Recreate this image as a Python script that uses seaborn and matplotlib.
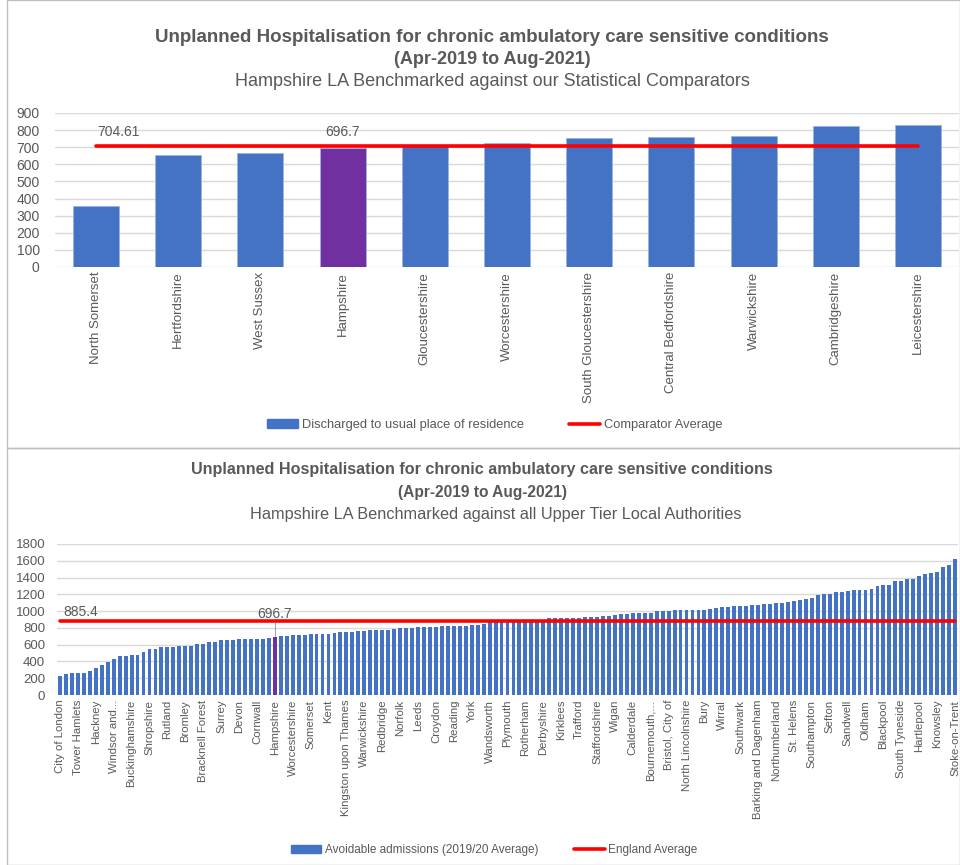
import numpy as np
import pandas as pd
import matplotlib
matplotlib.use("Agg")
import matplotlib.pyplot as plt
from matplotlib.patches import Rectangle, Patch
from matplotlib.lines import Line2D
import seaborn as sns

# ---------------- data ----------------
comp_areas = ["North Somerset", "Hertfordshire", "West Sussex", "Hampshire",
              "Gloucestershire", "Worcestershire", "South Gloucestershire",
              "Central Bedfordshire", "Warwickshire", "Cambridgeshire", "Leicestershire"]
comp_values = [356, 656, 669, 696.7, 708, 725, 751, 758, 764, 826, 830]
comp_average = 704.61

la_values = [230, 246, 258, 258, 258, 290, 318, 358, 389, 425, 465, 465, 477, 477, 509, 544,
             552, 568, 568, 576, 584, 588, 588, 604, 604, 628, 628, 656, 656, 660, 664, 666,
             671, 671, 671, 683, 696.7,
             699, 705, 716, 719, 721, 723, 729, 731, 733, 745, 747, 753, 755, 757, 763, 769,
             771, 777, 779, 787, 795, 801, 803, 809, 811, 815, 815, 819, 819, 823, 823, 828,
             830, 834, 842,
             868, 870, 872, 872, 874, 876, 878, 880, 882, 890,
             915, 920, 921, 922, 922, 923, 928, 930, 931, 936, 938, 950, 962,
             970, 972, 973, 975, 981, 998, 1001, 1003,
             1010, 1012, 1013, 1013, 1014, 1016, 1021, 1033,
             1047, 1049, 1057, 1063, 1065, 1071, 1073, 1081, 1089, 1095, 1097, 1113, 1121, 1137,
             1148, 1156, 1196, 1206, 1208, 1222, 1224, 1240, 1246, 1248, 1256, 1264, 1300, 1309,
             1311, 1361, 1363, 1381, 1383, 1419, 1443, 1459, 1466, 1522, 1546, 1625]
la_tick_labels = ["City of London", "Tower Hamlets", "Hackney", "Windsor and...", "Buckinghamshire",
                  "Shropshire", "Rutland", "Bromley", "Bracknell Forest", "Surrey", "Devon",
                  "Cornwall", "Hampshire", "Worcestershire", "Somerset", "Kent",
                  "Kingston upon Thames", "Warwickshire", "Redbridge", "Norfolk", "Leeds",
                  "Croydon", "Reading", "York", "Wandsworth", "Plymouth", "Rotherham",
                  "Derbyshire", "Kirklees", "Trafford", "Staffordshire", "Wigan", "Calderdale",
                  "Bournemouth,...", "Bristol, City of", "North Lincolnshire", "Bury", "Wirral",
                  "Southwark", "Barking and Dagenham", "Northumberland", "St. Helens",
                  "Southampton", "Sefton", "Sandwell", "Oldham", "Blackpool", "South Tyneside",
                  "Hartlepool", "Knowsley", "Stoke-on-Trent"]
hampshire_index = 36
england_average = 885.4

# ---------------- style ----------------
sns.set_theme(style="white")
plt.rcParams["font.family"] = ["Liberation Sans", "DejaVu Sans"]
BLUE = "#4472C4"
PURPLE = "#7030A0"
RED = "#FF0000"
GREY_TXT = "#595959"
GRID = "#D9D9D9"

W, H = 960, 865
fig = plt.figure(figsize=(W / 100, H / 100), dpi=100)

def ax_rect(x0, y0, x1, y1):
    # pixel coords (top-left origin) -> figure fraction rect
    return [x0 / W, 1 - y1 / H, (x1 - x0) / W, (y1 - y0) / H]

# panel borders
fig.patches.append(Rectangle((7 / W, 1 - 448 / H), (W - 7) / W, 448 / H, transform=fig.transFigure,
                             fill=False, edgecolor="#BFBFBF", linewidth=1))
fig.patches.append(Rectangle((7 / W, 0), (W - 7) / W, 1 - 448 / H, transform=fig.transFigure,
                             fill=False, edgecolor="#BFBFBF", linewidth=1))

def style_axis(ax, ymax, step, ysize, pad):
    ax.set_ylim(0, ymax)
    ax.set_yticks(np.arange(0, ymax + 1, step))
    ax.yaxis.grid(True, color=GRID, linewidth=1)
    ax.set_axisbelow(True)
    for s in ax.spines.values():
        s.set_visible(False)
    ax.tick_params(axis="y", labelsize=ysize, labelcolor=GREY_TXT, length=0, pad=pad)
    ax.tick_params(axis="x", length=0, labelcolor=GREY_TXT)
    ax.set_xlabel("")
    ax.set_ylabel("")

# ---------------- top chart ----------------
ax1 = fig.add_axes(ax_rect(55, 113, 959, 267))
df1 = pd.DataFrame({"area": comp_areas, "value": comp_values})
pal1 = {a: (PURPLE if a == "Hampshire" else BLUE) for a in comp_areas}
sns.barplot(data=df1, x="area", y="value", hue="area", palette=pal1, legend=False,
            width=0.56, saturation=1, edgecolor="#9DB3E0", linewidth=0.6, ax=ax1)
ax1.plot([0, len(comp_areas) - 1], [comp_average, comp_average], color=RED, linewidth=2.6, zorder=5)
ax1.set_xlim(-0.5, len(comp_areas) - 0.5)
style_axis(ax1, 900, 100, 10, 11)
ax1.set_xticks(range(len(comp_areas)))
ax1.set_xticklabels(comp_areas, rotation=90, fontsize=9.5, va="top")
ax1.text(0.02, 787, f"{comp_average:.2f}", fontsize=10, color=GREY_TXT, ha="left", va="center")
ax1.text(3, 787, "696.7", fontsize=10, color=GREY_TXT, ha="center", va="center")

fig.text(492 / W, 1 - 37 / H, "Unplanned Hospitalisation for chronic ambulatory care sensitive conditions",
         fontsize=13.5, fontweight="bold", color=GREY_TXT, ha="center", va="center")
fig.text(492 / W, 1 - 60 / H, "(Apr-2019 to Aug-2021)", fontsize=13, fontweight="bold",
         color=GREY_TXT, ha="center", va="center")
fig.text(492 / W, 1 - 82 / H, "Hampshire LA Benchmarked against our Statistical Comparators",
         fontsize=13, color=GREY_TXT, ha="center", va="center")

leg1 = [Patch(facecolor=BLUE, edgecolor=BLUE, label="Discharged to usual place of residence"),
        Line2D([0], [0], color=RED, linewidth=2.6, label="Comparator Average")]
fig.legend(handles=leg1, loc="center", bbox_to_anchor=(495 / W, 1 - 425 / H), ncol=2,
           frameon=False, fontsize=9.3, labelcolor=GREY_TXT, handlelength=2.4, handleheight=0.6,
           columnspacing=3.5, handletextpad=0.3)

# ---------------- bottom chart ----------------
n = len(la_values)
ax2 = fig.add_axes(ax_rect(57, 544, 958, 695))
df2 = pd.DataFrame({"idx": [str(i) for i in range(n)], "value": la_values})
pal2 = {str(i): (PURPLE if i == hampshire_index else BLUE) for i in range(n)}
sns.barplot(data=df2, x="idx", y="value", hue="idx", palette=pal2, legend=False,
            width=0.65, saturation=1, linewidth=0, ax=ax2)
ax2.plot([0, n - 1], [england_average, england_average], color=RED, linewidth=2.6, zorder=5)
ax2.set_xlim(-0.5, n - 0.5)
style_axis(ax2, 1800, 200, 9.5, 8.5)
ax2.set_xticks(range(0, n, 3))
ax2.set_xticklabels(la_tick_labels, rotation=90, fontsize=8.2, va="top")
ax2.text(0.5, 989, f"{england_average:.1f}", fontsize=10, color=GREY_TXT, ha="left", va="center")
ax2.text(hampshire_index, 965, "696.7", fontsize=10, color=GREY_TXT, ha="center", va="center")
ax2.plot([hampshire_index, hampshire_index], [700, 905], color="#A6A6A6", linewidth=0.8, zorder=4)

fig.text(482 / W, 1 - 470 / H, "Unplanned Hospitalisation for chronic ambulatory care sensitive conditions",
         fontsize=11.6, fontweight="bold", color=GREY_TXT, ha="center", va="center")
fig.text(482 / W, 1 - 493 / H, "(Apr-2019 to Aug-2021)", fontsize=11.2, fontweight="bold",
         color=GREY_TXT, ha="center", va="center")
fig.text(496 / W, 1 - 515 / H, "Hampshire LA Benchmarked against all Upper Tier Local Authorities",
         fontsize=11.7, color=GREY_TXT, ha="center", va="center")

leg2 = [Patch(facecolor=BLUE, edgecolor=BLUE, label="Avoidable admissions (2019/20 Average)"),
        Line2D([0], [0], color=RED, linewidth=2.6, label="England Average")]
fig.legend(handles=leg2, loc="center", bbox_to_anchor=(494 / W, 1 - 850 / H), ncol=2,
           frameon=False, fontsize=8.5, labelcolor=GREY_TXT, handlelength=2.6, handleheight=0.6,
           columnspacing=3.0, handletextpad=0.3)

fig.savefig("out.png", dpi=100, facecolor="white")
